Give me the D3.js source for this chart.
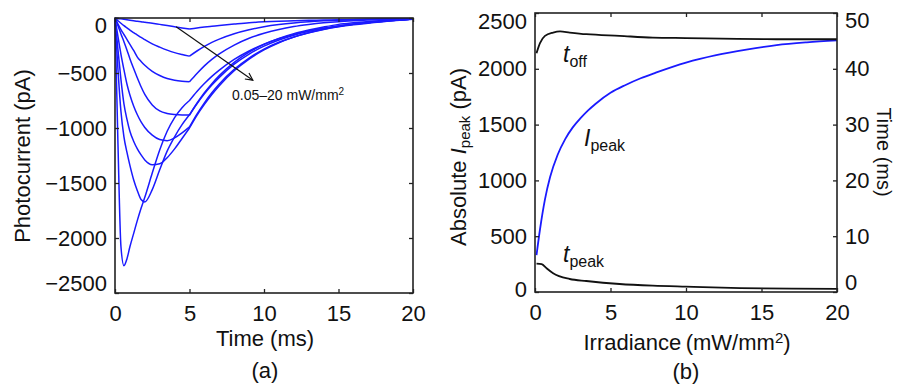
<!DOCTYPE html>
<html><head><meta charset="utf-8">
<script src="https://cdn.jsdelivr.net/npm/d3@7"></script>
<style>
html,body{margin:0;padding:0;background:#fff;}
svg{display:block;font-family:"Liberation Sans",Arial,Helvetica,sans-serif;}
</style></head>
<body>
<svg id="chart" width="897" height="384"></svg>
<script>
// ---------- Panel (a) data: photocurrent traces (pA) vs time (ms) ----------
const timeMs = [0,0.2,0.4,0.6,0.8,1,1.25,1.5,1.75,2,2.5,3,3.5,4,4.5,5,5.5,6,6.5,7,8,9,10,11,12,13,14,15,16,18,20];
const lightOffIndex = 15; // t = 5 ms
const trace1 = [0,-4,-8,-12,-16,-20,-25,-30,-34,-39,-48,-58,-68,-79,-90,-100,-90,-82,-75,-68,-55,-43,-35,-29,-25,-21,-19,-16,-14,-10,-7];
const trace2 = [0,-25,-48,-70,-90,-110,-133,-155,-177,-197,-235,-265,-292,-315,-332,-347,-300,-258,-222,-192,-143,-107,-80,-60,-45,-34,-26,-20,-16,-10,-6];
const trace3 = [0,-55,-105,-150,-195,-240,-295,-355,-395,-430,-485,-523,-550,-565,-574,-579,-504,-435,-376,-326,-246,-184,-139,-104,-78,-59,-44,-33,-25,-14,-8];
const trace4 = [0,-70,-145,-215,-290,-370,-460,-545,-625,-695,-790,-845,-868,-878,-882,-882,-775,-680,-597,-524,-404,-311,-240,-185,-142,-110,-82,-58,-43,-22,-8];
const trace5 = [0,-170,-330,-470,-600,-700,-800,-880,-945,-995,-1065,-1105,-1115,-1090,-1045,-990,-874,-771,-680,-600,-467,-364,-283,-221,-172,-134,-104,-80,-61,-33,-12];
const trace6 = [0,-290,-560,-780,-920,-1030,-1120,-1190,-1245,-1290,-1333,-1325,-1270,-1190,-1095,-1000,-885,-785,-695,-615,-480,-374,-290,-225,-174,-134,-103,-78,-58,-30,-10];
const trace7 = [0,-470,-850,-1080,-1220,-1340,-1470,-1570,-1650,-1672,-1560,-1380,-1210,-1080,-970,-880,-780,-690,-610,-540,-420,-328,-256,-200,-156,-121,-94,-72,-55,-30,-10];
const trace8 = [0,-1150,-2080,-2252,-2190,-2080,-1960,-1840,-1730,-1630,-1410,-1200,-1030,-905,-815,-750,-668,-596,-531,-474,-377,-300,-238,-189,-150,-119,-94,-73,-56,-30,-10];
const traces = [trace1,trace2,trace3,trace4,trace5,trace6,trace7,trace8];
const xTicksA = [0,5,10,15,20];
const yTicksA = [0,-500,-1000,-1500,-2000,-2500];
const arrowFrom = [4.1,-79], arrowTo = [9.25,-565];

// ---------- Panel (b) data ----------
const irrIpeak = [0.1,0.33,0.66,1,1.5,2,2.5,3,3.5,4,5,6,7,8,10,12,14,16,18,20];
const ipeakAbs = [331,560,830,1030,1230,1370,1475,1555,1625,1685,1785,1855,1915,1965,2055,2122,2172,2212,2237,2255];
const irrToff = [0.1,0.33,0.66,1.2,1.66,2.3,3.4,5.6,7.8,10,13.4,16,20];
const tOffMs = [42.8,44.6,45.9,46.5,46.7,46.5,46.2,45.9,45.6,45.5,45.35,45.3,45.3];
const irrTpeak = [0.1,0.44,0.77,1.2,2.3,3.4,5.6,7.8,10,13.6,17,20];
const tPeakMs = [5.1,5.0,4.25,3.35,2.33,1.97,1.43,1.13,0.95,0.7,0.6,0.55];
const xTicksB = [0,5,10,15,20];
const yTicksBLeft = [0,500,1000,1500,2000,2500];
const yTicksBRight = [0,10,20,30,40,50];

const svg = d3.select("#chart");
const FS = 22;
const axisColor = "#222";
const blue = "#1a1aff";

function frame(g, L, R, T, B){
  g.append("rect").attr("x",L).attr("y",T).attr("width",R-L).attr("height",B-T)
    .attr("fill","none").attr("stroke",axisColor).attr("stroke-width",1.6);
}

// ===== Panel (a) =====
const aL=115,aR=413,aT=18,aB=293;
const xA = d3.scaleLinear().domain([0,20]).range([aL,aR]);
const yA = d3.scaleLinear().domain([-2500,0]).range([aB,aT]);
const gA = svg.append("g");

const lineA = d3.line().x(d=>xA(d[0])).y(d=>yA(d[1])).curve(d3.curveMonotoneX);
traces.forEach(tr=>{
  const pts = timeMs.map((t,i)=>[t,tr[i]]);
  const on = pts.slice(0,lightOffIndex+1), off = pts.slice(lightOffIndex);
  gA.append("path").attr("d", lineA(on)+lineA(off))
    .attr("fill","none").attr("stroke",blue).attr("stroke-width",1.5);
});

// axes (a)
const fmtA = d=> d<0 ? "\u2212"+Math.abs(d) : String(d);
const axBA = d3.axisBottom(xA).tickValues(xTicksA).tickSizeInner(-4).tickSizeOuter(0).tickPadding(12).tickFormat(d3.format("d"));
const axTA = d3.axisTop(xA).tickValues(xTicksA).tickSizeInner(-4).tickSizeOuter(0).tickFormat("");
const axLA = d3.axisLeft(yA).tickValues(yTicksA).tickSizeInner(-4).tickSizeOuter(0).tickPadding(8).tickFormat(fmtA);
const axRA = d3.axisRight(yA).tickValues(yTicksA).tickSizeInner(-4).tickSizeOuter(0).tickFormat("");
function styleAxis(sel){
  sel.select(".domain").remove();
  sel.selectAll(".tick line").attr("stroke",axisColor).attr("stroke-width",1.3);
  sel.selectAll(".tick text").attr("font-size",FS).attr("fill","#111").attr("font-family","Liberation Sans, Arial, sans-serif");
}
gA.append("g").attr("transform",`translate(0,${aB})`).call(axBA).call(styleAxis);
gA.append("g").attr("transform",`translate(0,${aT})`).call(axTA).call(styleAxis);
const gLA = gA.append("g").attr("transform",`translate(${aL},0)`).call(axLA).call(styleAxis);
gLA.selectAll(".tick text").attr("dy",d=> d===0? "0.65em" : d===-2500 ? "-0.1em" : "0.32em");
gA.append("g").attr("transform",`translate(${aR},0)`).call(axRA).call(styleAxis);
frame(gA,aL,aR,aT,aB);

// arrow + annotation
const defs = svg.append("defs");
defs.append("marker").attr("id","arrowV").attr("viewBox","0 0 10 10").attr("refX",9).attr("refY",5)
  .attr("markerWidth",9).attr("markerHeight",9).attr("orient","auto").attr("markerUnits","userSpaceOnUse")
  .append("path").attr("d","M1,1 L9,5 L1,9").attr("fill","none").attr("stroke","#111").attr("stroke-width",1.3);
gA.append("line").attr("x1",xA(arrowFrom[0])).attr("y1",yA(arrowFrom[1]))
  .attr("x2",xA(arrowTo[0])).attr("y2",yA(arrowTo[1]))
  .attr("stroke","#111").attr("stroke-width",1.2).attr("marker-end","url(#arrowV)");
const ann = gA.append("text").attr("x",232).attr("y",100).attr("font-size",14).attr("fill","#111");
ann.append("tspan").text("0.05\u201320 mW/mm");
ann.append("tspan").attr("font-size",10).attr("dy",-5).text("2");

gA.append("text").attr("transform","translate(30,156) rotate(-90)").attr("text-anchor","middle")
  .attr("font-size",FS).attr("fill","#111").text("Photocurrent (pA)");
gA.append("text").attr("x",265).attr("y",346).attr("text-anchor","middle").attr("font-size",FS).attr("fill","#111").text("Time (ms)");
gA.append("text").attr("x",265).attr("y",378).attr("text-anchor","middle").attr("font-size",FS).attr("fill","#111").text("(a)");

// ===== Panel (b) =====
const bL=535,bR=837,bT=13,bB=292;
const xB = d3.scaleLinear().domain([0,20]).range([bL,bR]);
const yBL = d3.scaleLinear().domain([0,2500]).range([bB,bT]);
const yBR = d3.scaleLinear().domain([0,50]).range([bB,bT]);
const gB = svg.append("g");

gB.append("path").datum(irrIpeak.map((x,i)=>[x,ipeakAbs[i]]))
  .attr("d", d3.line().x(d=>xB(d[0])).y(d=>yBL(d[1])).curve(d3.curveMonotoneX))
  .attr("fill","none").attr("stroke",blue).attr("stroke-width",1.8);
gB.append("path").datum(irrToff.map((x,i)=>[x,tOffMs[i]]))
  .attr("d", d3.line().x(d=>xB(d[0])).y(d=>yBR(d[1])).curve(d3.curveMonotoneX))
  .attr("fill","none").attr("stroke","#111").attr("stroke-width",1.8);
gB.append("path").datum(irrTpeak.map((x,i)=>[x,tPeakMs[i]]))
  .attr("d", d3.line().x(d=>xB(d[0])).y(d=>yBR(d[1])).curve(d3.curveMonotoneX))
  .attr("fill","none").attr("stroke","#111").attr("stroke-width",1.8);

const axBB = d3.axisBottom(xB).tickValues(xTicksB).tickSizeInner(-4).tickSizeOuter(0).tickPadding(12).tickFormat(d3.format("d"));
const axTB = d3.axisTop(xB).tickValues(xTicksB).tickSizeInner(-4).tickSizeOuter(0).tickFormat("");
const axLB = d3.axisLeft(yBL).tickValues(yTicksBLeft).tickSizeInner(-4).tickSizeOuter(0).tickPadding(8).tickFormat(d3.format("d"));
const axRB = d3.axisRight(yBR).tickValues(yTicksBRight).tickSizeInner(-4).tickSizeOuter(0).tickPadding(8).tickFormat(d3.format("d"));
gB.append("g").attr("transform",`translate(0,${bB})`).call(axBB).call(styleAxis);
gB.append("g").attr("transform",`translate(0,${bT})`).call(axTB).call(styleAxis);
const gLB = gB.append("g").attr("transform",`translate(${bL},0)`).call(axLB).call(styleAxis);
gLB.selectAll(".tick text").attr("dy",d=> d===2500? "0.7em" : d===0 ? "0.22em" : "0.32em");
const gRB = gB.append("g").attr("transform",`translate(${bR},0)`).call(axRB).call(styleAxis);
gRB.selectAll(".tick text").attr("dy",d=> d===50? "0.65em" : d===0 ? "-0.1em" : "0.32em");
frame(gB,bL,bR,bT,bB);

// curve labels
function subLabel(x,y,main,sub){
  const t = gB.append("text").attr("x",x).attr("y",y).attr("font-size",23).attr("fill","#111");
  t.append("tspan").attr("font-style","italic").text(main);
  t.append("tspan").attr("font-size",16).attr("dy",5).text(sub);
}
subLabel(563,62,"t","off");
subLabel(584,146,"I","peak");
subLabel(563,262,"t","peak");

const ylb = gB.append("text").attr("transform","translate(466,157) rotate(-90)").attr("text-anchor","middle")
  .attr("font-size",FS).attr("fill","#111");
ylb.append("tspan").text("Absolute ");
ylb.append("tspan").attr("font-style","italic").text("I");
ylb.append("tspan").attr("font-size",15).attr("dy",4).text("peak");
ylb.append("tspan").attr("dy",-4).text(" (pA)");

gB.append("text").attr("transform","translate(877,152) rotate(90)").attr("text-anchor","middle")
  .attr("font-size",20).attr("fill","#111").text("Time (ms)");

const xlb = gB.append("text").attr("x",687).attr("y",350).attr("text-anchor","middle").attr("font-size",FS).attr("fill","#111");
xlb.append("tspan").text("Irradiance\u2009(mW/mm");
xlb.append("tspan").attr("font-size",15).attr("dy",-7).text("2");
xlb.append("tspan").attr("dy",7).text(")");
gB.append("text").attr("x",686).attr("y",379).attr("text-anchor","middle").attr("font-size",FS).attr("fill","#111").text("(b)");
</script>
</body></html>
